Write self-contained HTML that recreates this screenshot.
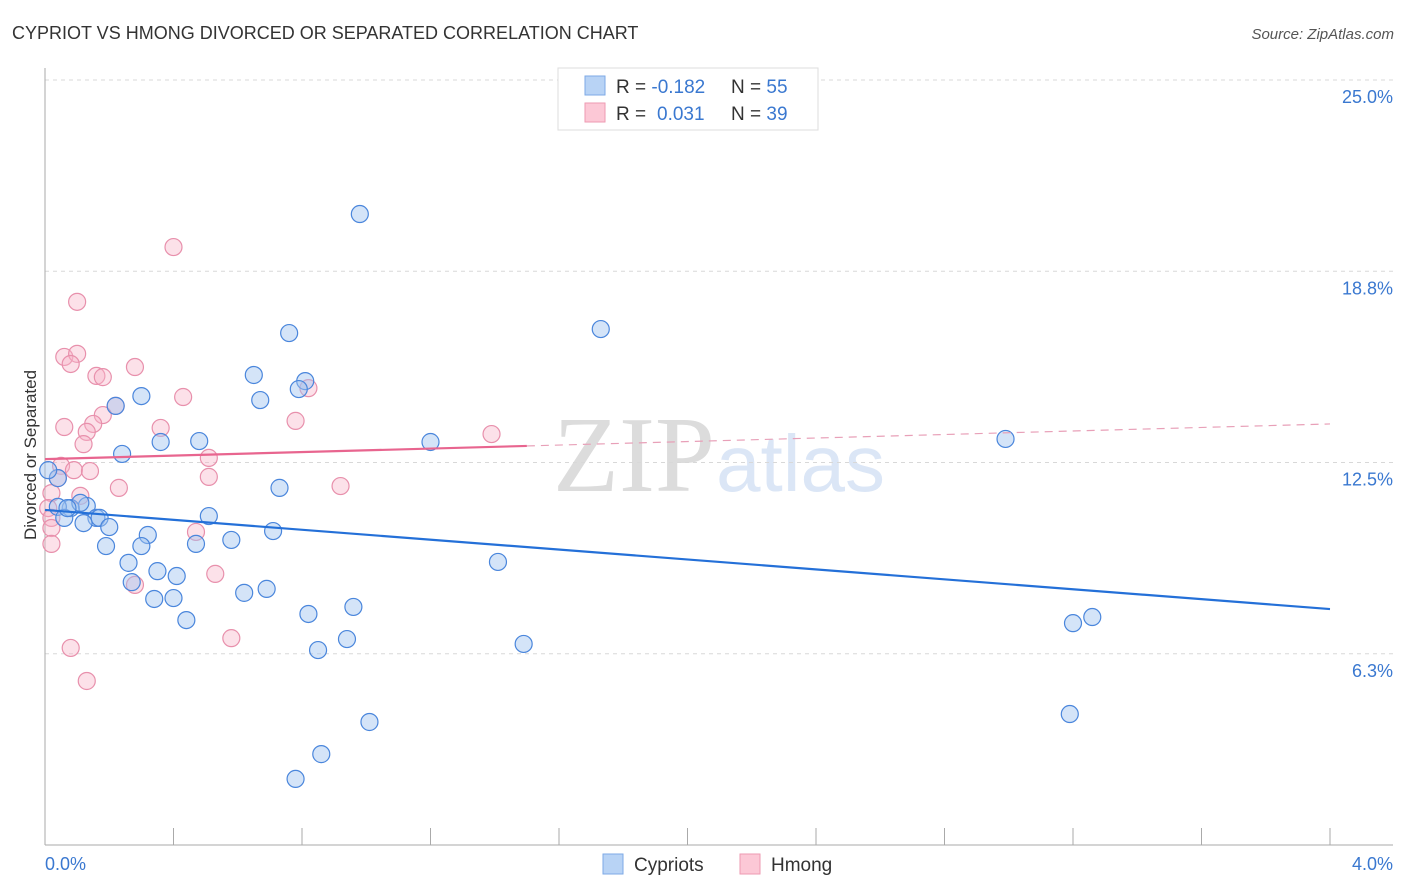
<!DOCTYPE html>
<html><head><meta charset="utf-8"><style>
body{margin:0;background:#fff;font-family:"Liberation Sans",sans-serif;}
svg{display:block}
</style></head><body>
<svg id="chart" width="1406" height="892" xmlns="http://www.w3.org/2000/svg">
<text x="12" y="39" font-size="18" fill="#333">CYPRIOT VS HMONG DIVORCED OR SEPARATED CORRELATION CHART</text>
<text x="1394" y="39" font-size="15" fill="#555" font-style="italic" text-anchor="end">Source: ZipAtlas.com</text>
<g>
<text x="553" y="491" font-family="Liberation Serif,serif" font-size="108" fill="#dcdcdc">ZIP</text>
<text x="716" y="491" font-size="80" fill="#dbe6f6">atlas</text>
</g>
<g id="grid"></g>
<g id="axes"></g>
<g id="marks"></g>
<text x="36" y="455" font-size="17" fill="#333" text-anchor="middle" transform="rotate(-90 36 455)">Divorced or Separated</text>
<text x="45" y="870" font-size="18" fill="#3a78d0">0.0%</text>
<text x="1393" y="870" font-size="18" fill="#3a78d0" text-anchor="end">4.0%</text>
<g>
<rect x="558" y="68" width="260" height="62" fill="#fff" stroke="#ddd"/>
<rect x="585" y="76" width="20" height="19" fill="#b8d3f5" stroke="#7eaae6"/>
<rect x="585" y="103" width="20" height="19" fill="#fcc8d6" stroke="#ee9ab2"/>
<text x="616" y="93" font-size="19" fill="#333">R = <tspan fill="#3a78d0">-0.182</tspan><tspan x="731">N = </tspan><tspan fill="#3a78d0">55</tspan></text>
<text x="616" y="120" font-size="19" fill="#333">R = <tspan fill="#3a78d0" x="657">0.031</tspan><tspan x="731">N = </tspan><tspan fill="#3a78d0">39</tspan></text>
</g>
<g>
<rect x="603" y="854" width="20" height="20" fill="#b8d3f5" stroke="#7eaae6"/>
<text x="634" y="871" font-size="19" fill="#333">Cypriots</text>
<rect x="740" y="854" width="20" height="20" fill="#fcc8d6" stroke="#ee9ab2"/>
<text x="771" y="871" font-size="19" fill="#333">Hmong</text>
</g>
</svg>
<script>
const yTicks=[25.0,18.75,12.5,6.25];
const yTickLabels=["25.0%","18.8%","12.5%","6.3%"];
const xTicks=[0,0.4,0.8,1.2,1.6,2.0,2.4,2.8,3.2,3.6,4.0];
const cypX=[0.98,1.73,0.76,0.65,0.81,0.79,0.30,0.22,0.67,0.36,0.48,1.20,2.99,0.24,0.73,0.04,0.13,0.08,0.11,0.04,0.06,0.16,0.17,0.12,0.20,0.51,0.71,0.32,0.58,0.19,0.30,0.47,0.26,1.41,0.35,0.41,0.27,0.62,0.69,0.34,0.40,0.82,0.96,0.44,3.20,3.26,0.94,1.49,0.85,3.19,1.01,0.86,0.78,0.01,0.07];
const cypY=[20.62,16.86,16.73,15.36,15.16,14.90,14.67,14.35,14.54,13.17,13.20,13.17,13.27,12.78,11.67,11.99,11.08,11.01,11.18,11.05,10.69,10.69,10.69,10.52,10.39,10.75,10.26,10.13,9.97,9.77,9.77,9.84,9.22,9.25,8.95,8.79,8.59,8.24,8.37,8.04,8.07,7.55,7.78,7.35,7.25,7.45,6.73,6.57,6.37,4.28,4.02,2.97,2.16,12.25,11.01];
const hmX=[0.40,0.10,0.06,0.10,0.08,0.28,0.16,0.18,0.43,0.78,0.22,0.18,0.15,0.06,0.36,0.13,0.12,0.82,1.39,0.51,0.51,0.05,0.09,0.14,0.23,0.92,0.04,0.02,0.11,0.01,0.02,0.02,0.47,0.02,0.53,0.28,0.58,0.08,0.13];
const hmY=[19.54,17.75,15.95,16.05,15.72,15.62,15.33,15.29,14.64,13.86,14.35,14.05,13.76,13.66,13.63,13.50,13.10,14.93,13.43,12.65,12.03,12.39,12.25,12.22,11.67,11.73,11.99,11.50,11.41,11.01,10.69,10.36,10.23,9.84,8.86,8.50,6.76,6.44,5.36];
const cypTrend=[10.95,7.71];
const hmTrend=[12.61,13.76];
const hmSolidEnd=1.5;

const NS="http://www.w3.org/2000/svg";
const X=v=>45+v/4*1285;
const Y=v=>845-v*30.6;
function mk(tag,attrs,parent){const e=document.createElementNS(NS,tag);for(const k in attrs)e.setAttribute(k,attrs[k]);parent.appendChild(e);return e;}
const grid=document.getElementById('grid'),axes=document.getElementById('axes'),marks=document.getElementById('marks');
yTicks.forEach((t,i)=>{
 const l=mk('line',{x1:45,x2:1393,y1:Y(t),y2:Y(t),stroke:'#d8d8d8','stroke-dasharray':'4 4'},grid);
 
 
 const tx=mk('text',{x:1393,y:Y(t)+23,'font-size':18,fill:'#3a78d0','text-anchor':'end'},grid);
 tx.textContent=yTickLabels[i];
 
 
});
mk('line',{x1:45,x2:45,y1:68,y2:845,stroke:'#aaa'},axes);
mk('line',{x1:45,x2:1393,y1:845,y2:845,stroke:'#aaa'},axes);
xTicks.forEach(t=>{
 const l=mk('line',{x1:X(t),x2:X(t),y1:828,y2:845,stroke:'#aaa'},axes);
 
 
});
function dots(xs,ys,fill,stroke,name){
 xs.forEach((x,i)=>{
  const c=mk('circle',{cx:X(x),cy:Y(ys[i]),r:8.5,fill:fill,stroke:stroke,'stroke-width':1.2},marks);
  
  
 });
}
dots(hmX,hmY,'rgba(248,180,200,0.4)','#e890ac','hmong-point');
dots(cypX,cypY,'rgba(160,196,240,0.45)','#4a86dc','cypriot-point');
const t1=mk('line',{x1:X(0),y1:Y(cypTrend[0]),x2:X(4),y2:Y(cypTrend[1]),stroke:'#2470d8','stroke-width':2.2},marks);


const hm=v=>hmTrend[0]+(hmTrend[1]-hmTrend[0])*v/4;
const t2=mk('line',{x1:X(0),y1:Y(hm(0)),x2:X(hmSolidEnd),y2:Y(hm(hmSolidEnd)),stroke:'#e8658f','stroke-width':2.2},marks);


const t3=mk('line',{x1:X(hmSolidEnd),y1:Y(hm(hmSolidEnd)),x2:X(4),y2:Y(hm(4)),stroke:'#e8a0b8','stroke-width':1.2,'stroke-dasharray':'8 6'},marks);


</script>
</body></html>
